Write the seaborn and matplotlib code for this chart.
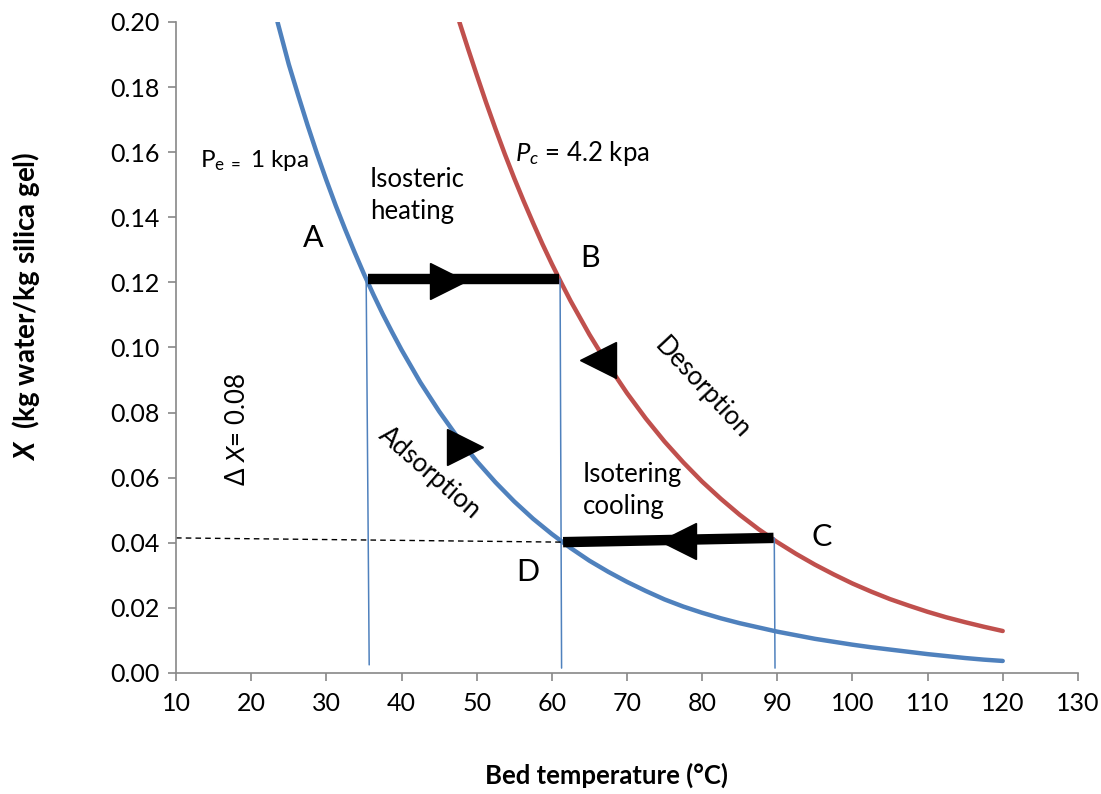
import numpy as np
import pandas as pd
import matplotlib
matplotlib.use("Agg")
import matplotlib.pyplot as plt
import seaborn as sns

# ---- data ----
blue_T = [23.5, 24.25, 25, 26.25, 27.5, 28.75, 30, 31.25, 32.5, 33.75, 35, 36.25, 37.5, 38.75,
          40, 42.5, 45, 47.5, 50, 52.5, 55, 57.5, 60, 62.5, 65, 67.5, 70, 72.5, 75, 77.5, 80,
          82.5, 85, 87.5, 90, 92.5, 95, 97.5, 100, 102.5, 105, 107.5, 110, 112.5, 115, 117.5, 120]
blue_X = [0.200, 0.1935, 0.187, 0.1775, 0.1683, 0.1596, 0.1514, 0.1436, 0.1363, 0.1293, 0.1226,
          0.1163, 0.1103, 0.1047, 0.0993, 0.0893, 0.0804, 0.0723, 0.0651, 0.0586, 0.0527, 0.0474,
          0.0427, 0.0384, 0.0345, 0.0311, 0.0280, 0.0252, 0.0226, 0.0204, 0.0185, 0.0168, 0.0153,
          0.0140, 0.0127, 0.0116, 0.0105, 0.0096, 0.0087, 0.0079, 0.0072, 0.0065, 0.0058, 0.0052,
          0.0046, 0.0041, 0.0037]
red_T = [47.7, 48.85, 50, 51.25, 52.5, 53.75, 55, 56.25, 57.5, 58.75, 60, 61.25, 62.5, 65, 67.5,
         70, 72.5, 75, 77.5, 80, 82.5, 85, 87.5, 90, 92.5, 95, 97.5, 100, 102.5, 105, 107.5, 110,
         112.5, 115, 117.5, 120]
red_X = [0.200, 0.1918, 0.1838, 0.1753, 0.1672, 0.1594, 0.1520, 0.1450, 0.1383, 0.1318, 0.1257,
         0.1199, 0.1143, 0.1040, 0.0946, 0.0860, 0.0782, 0.0711, 0.0647, 0.0588, 0.0535, 0.0486,
         0.0442, 0.0402, 0.0366, 0.0333, 0.0303, 0.0275, 0.0250, 0.0227, 0.0207, 0.0188, 0.0171,
         0.0156, 0.0142, 0.0129]

# cycle points
A = (35.5, 0.121)
B = (61.0, 0.121)
C = (89.5, 0.0415)
D = (61.5, 0.0402)
dash_start = (10.0, 0.0415)

x_ticks = list(range(10, 131, 10))
y_ticks = [0.00, 0.02, 0.04, 0.06, 0.08, 0.10, 0.12, 0.14, 0.16, 0.18, 0.20]

BLUE = "#4F81BD"
RED = "#C0504D"

sns.set_theme(style="white")
plt.rcParams["font.family"] = ["Lato", "DejaVu Sans"]
plt.rcParams["text.color"] = "black"
plt.rcParams["axes.labelcolor"] = "black"
plt.rcParams["mathtext.fontset"] = "custom"
plt.rcParams["mathtext.rm"] = "Lato"
plt.rcParams["mathtext.it"] = "Lato:italic"
plt.rcParams["mathtext.bf"] = "Lato:bold"
plt.rcParams["mathtext.bfit"] = "Lato:bold:italic"

fig = plt.figure(figsize=(11.01, 7.94), dpi=100)
ax = fig.add_axes([0.1599, 0.1524, 0.8191, 0.8199])

df = pd.DataFrame({
    "T": blue_T + red_T,
    "X": blue_X + red_X,
    "curve": ["Pe"] * len(blue_T) + ["Pc"] * len(red_T),
})
sns.lineplot(data=df, x="T", y="X", hue="curve", palette={"Pe": BLUE, "Pc": RED},
             lw=3.2, legend=False, ax=ax, solid_capstyle="round", sort=True)

# thin vertical lines
ax.plot([35.3, 35.7], [0.120, 0.0025], color=BLUE, lw=1.1)
ax.plot([61.1, 61.3], [0.121, 0.0015], color=BLUE, lw=1.1)
ax.plot([89.6, 89.7], [0.0415, 0.0015], color=BLUE, lw=1.1)

# dashed line
ax.plot([dash_start[0], D[0]], [dash_start[1], D[1]], color="black", lw=1.0, ls=(0, (4, 3)))

# thick cycle lines
ax.plot([A[0], B[0]], [A[1], B[1]], color="black", lw=7.5, solid_capstyle="butt")
ax.plot([C[0], D[0]], [C[1], D[1]], color="black", lw=7.5, solid_capstyle="butt")

# arrow heads
ax.plot([46.2], [0.1205], marker=">", color="black", markersize=26, ls="none")
ax.plot([76.8], [0.0405], marker="<", color="black", markersize=26, ls="none")
ax.plot([48.4], [0.0694], marker=">", color="black", markersize=26, ls="none")
ax.plot([66.1], [0.0962], marker="<", color="black", markersize=26, ls="none")

# axes styling
ax.set_xlim(10, 130)
ax.set_ylim(0, 0.20)
ax.set_xticks(x_ticks)
ax.set_yticks(y_ticks)
ax.set_yticklabels([f"{v:.2f}" for v in y_ticks])
ax.tick_params(axis="both", labelsize=18, labelcolor="#000000", length=6, width=1.2,
               direction="out", bottom=True, left=True, color="#888888")
ax.tick_params(axis="x", pad=8)
ax.tick_params(axis="y", pad=6)
for s in ["top", "right"]:
    ax.spines[s].set_visible(False)
for s in ["left", "bottom"]:
    ax.spines[s].set_color("#888888")
    ax.spines[s].set_linewidth(1.2)
ax.grid(False)

ax.set_xlabel("Bed temperature (°C)", fontsize=18.5, fontweight="bold")
ax.xaxis.set_label_coords(0.477, -0.157)
ax.xaxis.label.set_va("center")
ax.set_ylabel(r"$\mathbfit{X}$  (kg water/kg silica gel)", fontsize=20, fontweight="bold")
ax.yaxis.set_label_coords(-0.166, 0.564)
ax.yaxis.label.set_va("center")

# annotations
fs = 18.5
ax.text(13.2, 0.1576, r"P$_{\rm e\ =}$ 1 kpa", fontsize=17.5, va="center", ha="left")
ax.text(55.1, 0.1597, r"$P_{c}$ = 4.2 kpa", fontsize=fs, va="center", ha="left")
ax.text(35.8, 0.1468, "Isosteric\nheating", fontsize=fs, va="center", ha="left", linespacing=1.35)
ax.text(64.1, 0.0562, "Isotering\ncooling", fontsize=fs, va="center", ha="left", linespacing=1.35)
ax.text(28.3, 0.1335, "A", fontsize=22, va="center", ha="center")
ax.text(65.1, 0.1275, "B", fontsize=22, va="center", ha="center")
ax.text(95.9, 0.0418, "C", fontsize=22, va="center", ha="center")
ax.text(56.8, 0.0310, "D", fontsize=22, va="center", ha="center")
ax.text(80.0, 0.0876, "Desorption", fontsize=fs, rotation=-47, va="center", ha="center",
        rotation_mode="anchor")
ax.text(43.8, 0.0615, "Adsorption", fontsize=fs, rotation=-41, va="center", ha="center",
        rotation_mode="anchor")
ax.text(18.2, 0.0747, r"$\Delta$ $X$= 0.08", fontsize=fs, rotation=90, va="center", ha="center")

fig.savefig("out.png", dpi=100)
